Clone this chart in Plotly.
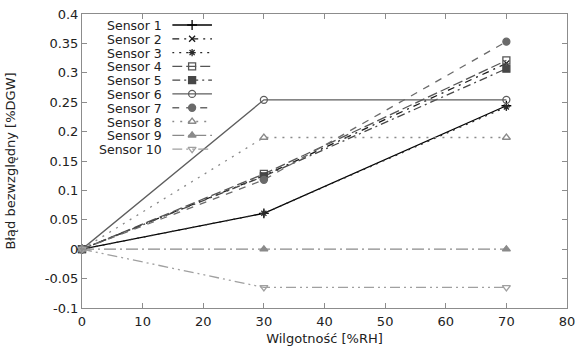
import plotly.graph_objects as go

# ---- data ----
humidity = [0, 30, 70]
sensor_names = ["Sensor 1", "Sensor 2", "Sensor 3", "Sensor 4", "Sensor 5",
                "Sensor 6", "Sensor 7", "Sensor 8", "Sensor 9", "Sensor 10"]
s1 = [0, 0.061, 0.244]
s2 = [0, 0.125, 0.316]
s3 = [0, 0.061, 0.242]
s4 = [0, 0.128, 0.321]
s5 = [0, 0.124, 0.307]
s6 = [0, 0.254, 0.254]
s7 = [0, 0.118, 0.353]
s8 = [0, 0.190, 0.190]
s9 = [0, 0.0, 0.0]
s10 = [0, -0.065, -0.065]
series = [s1, s2, s3, s4, s5, s6, s7, s8, s9, s10]

x_ticks = [0, 10, 20, 30, 40, 50, 60, 70, 80]
y_ticks = [-0.1, -0.05, 0, 0.05, 0.1, 0.15, 0.2, 0.25, 0.3, 0.35, 0.4]
y_tick_labels = ["-0.1", "-0.05", "0", "0.05", "0.1", "0.15", "0.2", "0.25", "0.3", "0.35", "0.4"]

# ---- styles ----
colors = ["#000000", "#1a1a1a", "#2a2a2a", "#555555", "#474747",
          "#5e5e5e", "#6a6a6a", "#8a8a8a", "#8a8a8a", "#a0a0a0"]
dashes = ["solid", "7px,5px,2px,5px", "2px,5px", "10px,4px", "8px,4px,2px,4px",
          "solid", "7px,7px", "2px,6px", "12px,4px,2px,4px", "10px,4px,2px,4px,2px,4px"]
symbols = ["cross-thin-open", "x-thin-open", "asterisk-open", "square-open", "square",
           "circle-open", "circle", "triangle-up-open", "triangle-up", "triangle-down-open"]
sizes = [7, 6, 6, 7, 7, 7, 7, 7, 7, 7]

FONT = "DejaVu Sans"
fig = go.Figure()

for name, ys, c, d, sym, sz in zip(sensor_names, series, colors, dashes, symbols, sizes):
    fig.add_trace(go.Scatter(
        x=humidity, y=ys, name=name, mode="lines+markers",
        line=dict(color=c, width=1.3, dash=d),
        marker=dict(symbol=sym, size=sz, color=c, line=dict(color=c, width=1.3)),
        showlegend=False, xaxis="x", yaxis="y", cliponaxis=False,
    ))

# ---- custom legend (text left, sample right) on hidden overlay axes ----
row_top = 0.9626
row_step = 0.0469
for i, (name, c, d, sym, sz) in enumerate(zip(sensor_names, colors, dashes, symbols, sizes)):
    yy = row_top - i * row_step
    fig.add_trace(go.Scatter(
        x=[0, 1], y=[yy, yy], mode="lines", line=dict(color=c, width=1.3, dash=d),
        xaxis="x2", yaxis="y2", showlegend=False, hoverinfo="skip",
    ))
    fig.add_trace(go.Scatter(
        x=[0.5], y=[yy], mode="markers",
        marker=dict(symbol=sym, size=sz, color=c, line=dict(color=c, width=1.3)),
        xaxis="x2", yaxis="y2", showlegend=False, hoverinfo="skip",
    ))
    fig.add_annotation(
        x=0.167, y=yy, xref="paper", yref="paper", text=name, showarrow=False,
        xanchor="right", yanchor="middle", height=12, borderpad=0,
        font=dict(family=FONT, size=12.5, color="#222"),
    )

axis_common = dict(
    showline=True, linecolor="#8c8c8c", linewidth=1, mirror="ticks",
    ticks="inside", ticklen=5, tickcolor="#8c8c8c", showgrid=False, zeroline=False,
    tickfont=dict(family=FONT, size=13, color="#222"), automargin=False,
    ticklabeloverflow="allow",
)

fig.update_layout(
    width=575, height=351,
    margin=dict(l=82, r=8, t=14, b=43),
    paper_bgcolor="white", plot_bgcolor="rgba(0,0,0,0)",
    showlegend=False,
    xaxis=dict(range=[0, 80], tickvals=x_ticks, ticktext=[str(v) for v in x_ticks],
               ticklabelstandoff=1,
               title=dict(text="Wilgotność [%RH]", font=dict(family=FONT, size=13, color="#222"), standoff=6),
               **axis_common),
    yaxis=dict(range=[-0.1, 0.4], tickvals=y_ticks, ticktext=y_tick_labels,
               title=dict(text="Błąd bezwzględny [%DGW]", font=dict(family=FONT, size=13, color="#222"), standoff=26),
               **axis_common),
    xaxis2=dict(domain=[0.186, 0.268], range=[0, 1], visible=False, anchor="y2", fixedrange=True),
    yaxis2=dict(domain=[0, 1], range=[0, 1], visible=False, anchor="x2", fixedrange=True),
)

# remove the default page margin so the figure fills the window exactly
fig.write_html("out.html", config={"displayModeBar": False},
               post_script="document.body.style.margin='0';document.body.style.overflow='hidden';")
